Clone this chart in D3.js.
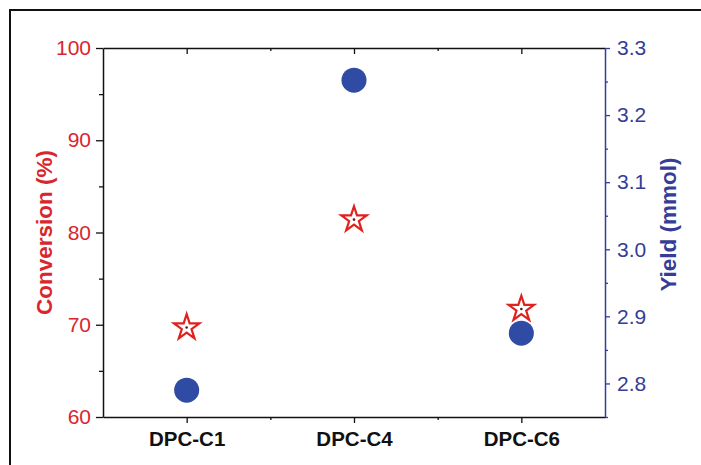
<!DOCTYPE html>
<html>
<head>
<meta charset="utf-8">
<script src="https://cdn.jsdelivr.net/npm/d3@7"></script>
<style>
  body { margin: 0; background: #fff; }
  svg { display: block; font-family: "Liberation Sans", Arial, sans-serif; }
</style>
</head>
<body>
<script>
// data
const categories = ["DPC-C1", "DPC-C4", "DPC-C6"];
const conversion = [69.7, 81.4, 71.7];   // %
const yieldMmol = [2.790, 3.252, 2.875]; // mmol
const leftTicks = [60, 70, 80, 90, 100];
const leftMinor = [65, 75, 85, 95];
const rightTicks = [2.8, 2.9, 3.0, 3.1, 3.2, 3.3];
const rightMinor = [2.75, 2.85, 2.95, 3.05, 3.15, 3.25];

const width = 701, height = 465;
const red = "#d9262d", redMark = "#e0221f", blue = "#2f4ba3", blueAxis = "#353d96";

const svg = d3.select("body").append("svg")
  .attr("width", width).attr("height", height);

// outer frame
svg.append("rect")
  .attr("x", 10).attr("y", 10)
  .attr("width", 720).attr("height", 480)
  .attr("fill", "none").attr("stroke", "#111").attr("stroke-width", 2);

const plotLeft = 103, plotRight = 605, plotTop = 48, plotBottom = 417;

const x = d3.scaleLinear().domain([0.5, 3.5]).range([plotLeft, plotRight]);
const yL = d3.scaleLinear().domain([60, 100]).range([plotBottom, plotTop]);
const yR = d3.scaleLinear().domain([2.75, 3.3]).range([plotBottom, plotTop]);

function style(g, color, width) {
  g.selectAll("path.domain").attr("stroke", color).attr("stroke-width", width || 1.5);
  g.selectAll(".tick line").attr("stroke", color).attr("stroke-width", 1.3);
}

// bottom axis
const gB = svg.append("g").attr("transform", `translate(0,${plotBottom})`)
  .call(d3.axisBottom(x).tickValues([1, 2, 3]).tickSize(6).tickSizeOuter(0)
    .tickPadding(8).tickFormat((d) => categories[d - 1]));
style(gB, "#111");
gB.selectAll("text").attr("fill", "#111").attr("font-size", 20.5)
  .attr("font-weight", "bold");
const gBm = svg.append("g").attr("transform", `translate(0,${plotBottom})`)
  .call(d3.axisBottom(x).tickValues([1.5, 2.5]).tickSize(3).tickFormat(""));
gBm.select("path.domain").remove();
style(gBm, "#111");

// top axis (ticks inward)
const gT = svg.append("g").attr("transform", `translate(0,${plotTop})`)
  .call(d3.axisBottom(x).tickValues([1, 2, 3]).tickSize(6).tickSizeOuter(0).tickFormat(""));
style(gT, "#111");
const gTm = svg.append("g").attr("transform", `translate(0,${plotTop})`)
  .call(d3.axisBottom(x).tickValues([1.5, 2.5]).tickSize(3).tickFormat(""));
gTm.select("path.domain").remove();
style(gTm, "#111");

// left axis
const gL = svg.append("g").attr("transform", `translate(${plotLeft},0)`)
  .call(d3.axisLeft(yL).tickValues(leftTicks).tickSize(7).tickSizeOuter(0).tickPadding(5));
style(gL, "#111");
gL.selectAll("text").attr("fill", red).attr("font-size", 21);
const gLm = svg.append("g").attr("transform", `translate(${plotLeft},0)`)
  .call(d3.axisLeft(yL).tickValues(leftMinor).tickSize(4).tickFormat(""));
gLm.select("path.domain").remove();
style(gLm, "#111");

// right axis
const gR = svg.append("g").attr("transform", `translate(${plotRight},0)`)
  .call(d3.axisRight(yR).tickValues(rightTicks).tickSize(5).tickSizeOuter(0)
    .tickPadding(7).tickFormat(d3.format(".1f")));
style(gR, blueAxis);
gR.selectAll("text").attr("fill", blueAxis).attr("font-size", 21);
const gRm = svg.append("g").attr("transform", `translate(${plotRight},0)`)
  .call(d3.axisRight(yR).tickValues(rightMinor).tickSize(3).tickFormat(""));
gRm.select("path.domain").remove();
style(gRm, blueAxis);

// axis titles
svg.append("text")
  .attr("transform", `translate(52,${(plotTop + plotBottom) / 2}) rotate(-90)`)
  .attr("text-anchor", "middle")
  .attr("fill", red).attr("font-weight", "bold").attr("font-size", 22.5)
  .text("Conversion (%)");
svg.append("text")
  .attr("transform", `translate(676,${(plotTop + plotBottom) / 2 - 8}) rotate(-90)`)
  .attr("text-anchor", "middle")
  .attr("fill", blueAxis).attr("font-weight", "bold").attr("font-size", 22.5)
  .text("Yield (mmol)");

// yield circles
svg.append("g").selectAll("circle")
  .data(yieldMmol)
  .enter()
  .append("circle")
  .attr("cx", (d, i) => x(i + 1))
  .attr("cy", (d) => yR(d))
  .attr("r", 12.5)
  .attr("fill", blue);

// conversion stars
const star = d3.symbol().type(d3.symbolStar).size(200);
const stars = svg.append("g").selectAll("g")
  .data(conversion)
  .enter()
  .append("g")
  .attr("transform", (d, i) => `translate(${x(i + 1)},${yL(d)})`);
stars.append("path")
  .attr("d", star)
  .attr("fill", "#fff")
  .attr("stroke", redMark)
  .attr("stroke-width", 2.2);
stars.append("circle")
  .attr("r", 1.3)
  .attr("fill", "#5a1a1a");
</script>
</body>
</html>
